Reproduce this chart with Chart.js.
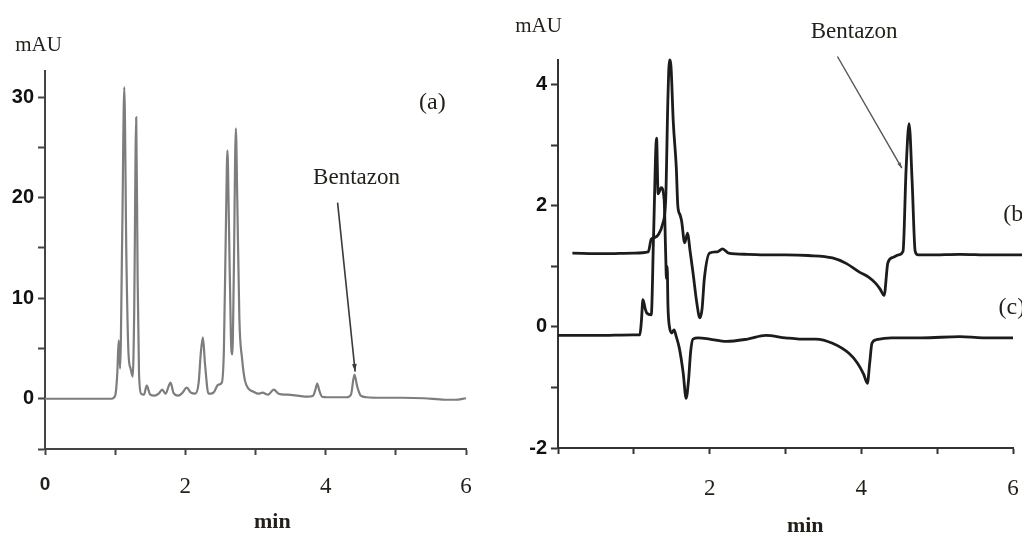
<!DOCTYPE html>
<html>
<head>
<meta charset="utf-8">
<script src="https://cdn.jsdelivr.net/npm/chart.js@4.4.1/dist/chart.umd.min.js"></script>
<style>
    body { margin: 0; background: #fff; }
    #wrap { position: relative; width: 1022px; height: 536px; overflow: hidden; }
    canvas { position: absolute; top: 0; }
    #chartA { left: 0; }
    #chartB { left: 500px; }
</style>
</head>
<body>
<div id="wrap">
    <canvas id="chartA" width="500" height="536"></canvas>
    <canvas id="chartB" width="522" height="536"></canvas>
</div>
<script>
// (a) chromatogram, min / mAU
const timeA = [0, 0.5, 0.95, 1.00, 1.03, 1.05, 1.07, 1.10, 1.13, 1.16, 1.19, 1.22, 1.25, 1.27, 1.30, 1.32, 1.34, 1.37,
    1.41, 1.45, 1.50, 1.56, 1.62, 1.67, 1.72, 1.76, 1.79, 1.83, 1.90, 1.96, 2.02, 2.08, 2.14, 2.19, 2.22, 2.25, 2.28,
    2.33, 2.40, 2.47, 2.52, 2.55, 2.58, 2.60, 2.62, 2.65, 2.67, 2.69, 2.72, 2.74, 2.77, 2.81, 2.85, 2.90, 2.97, 3.04,
    3.10, 3.18, 3.26, 3.33, 3.45, 3.60, 3.74, 3.82, 3.85, 3.88, 3.91, 3.95, 4.02, 4.15, 4.30, 4.36, 4.41, 4.45, 4.50,
    4.58, 4.80, 5.10, 5.40, 5.70, 5.85, 6.0];
const signalA = [0, 0, 0, 0.3, 2.5, 5.8, 3.0, 16, 31, 14, 4.5, 3.0, 2.2, 8, 28, 12, 2.5, 0.5,
    0.4, 1.3, 0.4, 0.3, 0.5, 0.9, 0.5, 1.2, 1.6, 0.6, 0.3, 0.6, 1.1, 0.6, 0.5, 1.6, 4.5, 6.1, 3.5,
    0.5, 0.6, 1.4, 1.6, 5, 18, 24.7, 18, 6, 4.4, 12, 26.9, 20, 8, 3.9, 1.8, 1.0, 0.7, 0.5,
    0.6, 0.4, 0.9, 0.5, 0.4, 0.3, 0.2, 0.3, 0.8, 1.5, 0.8, 0.2, 0.15, 0.15, 0.15, 0.4, 2.4, 1.2, 0.3,
    0.15, 0.1, 0.1, 0.05, -0.1, -0.1, 0.05];

// (b) trace
const timeB = [0.19, 0.6, 1.0, 1.19, 1.23, 1.28, 1.32, 1.38, 1.42, 1.45, 1.47, 1.49, 1.52, 1.56, 1.58, 1.61, 1.63,
    1.67, 1.71, 1.74, 1.78, 1.83, 1.87, 1.90, 1.93, 2.0, 2.1, 2.17, 2.25, 2.5, 2.8, 3.0, 3.3, 3.62, 3.8, 3.97, 4.1,
    4.19, 4.25, 4.30, 4.35, 4.42, 4.49, 4.55, 4.59, 4.63, 4.67, 4.71, 4.75, 4.9, 5.3, 5.7, 6.12];
const signalB = [1.22, 1.21, 1.22, 1.24, 1.45, 1.48, 1.52, 1.7, 2.1, 3.8, 4.41, 4.3, 3.39, 2.63, 2.0, 1.85, 1.75,
    1.39, 1.55, 1.27, 0.9, 0.4, 0.15, 0.3, 0.8, 1.22, 1.24, 1.29, 1.22, 1.2, 1.19, 1.19, 1.18, 1.14, 1.05, 0.91, 0.82,
    0.72, 0.62, 0.52, 1.06, 1.15, 1.19, 1.25, 2.6, 3.36, 2.4, 1.25, 1.19, 1.19, 1.2, 1.19, 1.19];

// (c) trace
const timeC = [0.0, 0.5, 1.0, 1.08, 1.10, 1.12, 1.15, 1.17, 1.23, 1.26, 1.30, 1.32, 1.36, 1.40, 1.42, 1.43, 1.44,
    1.45, 1.47, 1.50, 1.53, 1.56, 1.60, 1.65, 1.69, 1.72, 1.75, 1.78, 1.85, 2.0, 2.22, 2.5, 2.74, 3.0, 3.18, 3.4,
    3.62, 3.84, 3.95, 4.03, 4.08, 4.11, 4.14, 4.2, 4.4, 4.8, 5.3, 5.6, 6.02];
const signalC = [-0.14, -0.14, -0.13, -0.13, 0.1, 0.45, 0.3, 0.23, 0.2, 1.5, 3.12, 2.2, 2.3, 2.1, 1.2, 0.8, 1.0,
    0.35, 0.0, -0.1, -0.05, -0.16, -0.35, -0.75, -1.18, -0.9, -0.4, -0.2, -0.18, -0.2, -0.24, -0.2, -0.14, -0.18, -0.2, -0.2,
    -0.27, -0.44, -0.6, -0.78, -0.93, -0.6, -0.27, -0.21, -0.18, -0.18, -0.16, -0.18, -0.18];

const xTicks = [0, 1, 2, 3, 4, 5, 6];
const yTicksA = [-5, 0, 5, 10, 15, 20, 25, 30];
const yTicksB = [-2, -1, 0, 1, 2, 3, 4];

const SERIF = '"Liberation Serif", "Times New Roman", serif';
const SANS = '"Liberation Sans", Arial, sans-serif';

const toPoints = (xs, ys) => xs.map((x, i) => ({ x: x, y: ys[i] }));

// text + arrows placed in data units
const notes = {
    id: 'notes',
    afterDraw(chart, args, opts) {
        const ctx = chart.ctx;
        const sx = chart.scales.x, sy = chart.scales.y;
        ctx.save();
        (opts.arrows || []).forEach(a => {
            const x1 = sx.getPixelForValue(a.from[0]), y1 = sy.getPixelForValue(a.from[1]);
            const x2 = sx.getPixelForValue(a.to[0]), y2 = sy.getPixelForValue(a.to[1]);
            ctx.strokeStyle = a.color;
            ctx.fillStyle = a.color;
            ctx.lineWidth = a.width;
            ctx.beginPath();
            ctx.moveTo(x1, y1);
            ctx.lineTo(x2, y2);
            ctx.stroke();
            const ang = Math.atan2(y2 - y1, x2 - x1);
            ctx.beginPath();
            ctx.moveTo(x2, y2);
            ctx.lineTo(x2 - a.head * Math.cos(ang - 0.3), y2 - a.head * Math.sin(ang - 0.3));
            ctx.lineTo(x2 - a.head * Math.cos(ang + 0.3), y2 - a.head * Math.sin(ang + 0.3));
            ctx.closePath();
            ctx.fill();
        });
        (opts.labels || []).forEach(l => {
            ctx.font = l.font;
            ctx.fillStyle = '#231f1a';
            ctx.textAlign = l.align || 'center';
            ctx.textBaseline = 'middle';
            ctx.fillText(l.text, sx.getPixelForValue(l.at[0]), sy.getPixelForValue(l.at[1]));
        });
        ctx.restore();
    }
};

function axisX(color, labelFn, fontFn, height, pad) {
    return {
        type: 'linear',
        min: 0,
        max: 6,
        afterBuildTicks: axis => { axis.ticks = xTicks.map(v => ({ value: v })); },
        afterFit: scale => {
            scale.height = height;
            // keep the plot edge where the figure has it
            scale.paddingLeft = 0;
            scale.paddingRight = 0;
        },
        border: { color: color, width: 2 },
        grid: { drawOnChartArea: false, tickLength: 6, tickColor: color, tickWidth: 2 },
        ticks: { color: '#231f1a', padding: pad, maxRotation: 0, autoSkip: false, callback: labelFn, font: fontFn }
    };
}

function axisY(color, min, max, ticks, labelFn, width) {
    return {
        type: 'linear',
        min: min,
        max: max,
        afterBuildTicks: axis => { axis.ticks = ticks.map(v => ({ value: v })); },
        afterFit: scale => { scale.width = width; },
        border: { color: color, width: 2 },
        grid: { drawOnChartArea: false, tickLength: 7, tickColor: color, tickWidth: 2 },
        ticks: { color: '#111', padding: 4, autoSkip: false, callback: labelFn,
            font: { family: SANS, size: 20, weight: 'bold' } }
    };
}

function displayLeft() {
    const config = {
        type: 'line',
        data: {
            datasets: [{
                label: '(a)',
                data: toPoints(timeA, signalA),
                borderColor: '#7d7d7d',
                borderWidth: 2.2,
                pointRadius: 0,
                cubicInterpolationMode: 'monotone',
                fill: false
            }]
        },
        options: {
            responsive: false,
            animation: false,
            events: [],
            layout: { padding: { left: 0, top: 71, right: 34, bottom: 0 } },
            plugins: {
                legend: { display: false },
                tooltip: { enabled: false },
                notes: {
                    labels: [
                        { text: 'mAU', at: [-0.093, 35.15], font: '21px ' + SERIF },
                        { text: 'Bentazon', at: [4.44, 21.95], font: '23px ' + SERIF },
                        { text: '(a)', at: [5.52, 29.4], font: '24px ' + SERIF },
                        { text: 'min', at: [3.24, -12.3], font: 'bold 22px ' + SERIF }
                    ],
                    arrows: [{ from: [4.17, 19.5], to: [4.42, 2.7], color: '#3a3a3a', width: 1.6, head: 8 }]
                }
            },
            scales: {
                x: axisX('#444', v => (v % 2 === 0 ? String(v) : ''),
                    c => (c.tick && c.tick.value === 0
                        ? { family: SANS, size: 19, weight: 'bold' }
                        : { family: SERIF, size: 23 }), 87, 18),
                y: axisY('#444', -5, 32.6, yTicksA, v => (v % 10 === 0 ? String(v) : ''), 45)
            }
        },
        plugins: [notes]
    };
    new Chart(document.getElementById('chartA'), config);
}

function displayRight() {
    const config = {
        type: 'line',
        data: {
            datasets: [{
                    label: '(b)',
                    data: toPoints(timeB, signalB),
                    borderColor: '#1c1c1c',
                    borderWidth: 2.8,
                    pointRadius: 0,
                    cubicInterpolationMode: 'monotone',
                    clip: false,
                    fill: false
                },
                {
                    label: '(c)',
                    data: toPoints(timeC, signalC),
                    borderColor: '#1c1c1c',
                    borderWidth: 2.8,
                    pointRadius: 0,
                    cubicInterpolationMode: 'monotone',
                    fill: false
                }
            ]
        },
        options: {
            responsive: false,
            animation: false,
            events: [],
            layout: { padding: { left: 0, top: 60, right: 9, bottom: 0 } },
            plugins: {
                legend: { display: false },
                tooltip: { enabled: false },
                notes: {
                    labels: [
                        { text: 'mAU', at: [-0.257, 4.96], font: '21px ' + SERIF },
                        { text: 'Bentazon', at: [3.905, 4.876], font: '23px ' + SERIF },
                        { text: '(b)', at: [5.87, 1.85], font: '24px ' + SERIF, align: 'left' },
                        { text: '(c)', at: [5.81, 0.31], font: '24px ' + SERIF, align: 'left' },
                        { text: 'min', at: [3.26, -3.29], font: 'bold 22px ' + SERIF }
                    ],
                    arrows: [{ from: [3.685, 4.468], to: [4.534, 2.623], color: '#555', width: 1.4, head: 6 }]
                }
            },
            scales: {
                x: axisX('#333', v => (v % 2 === 0 && v > 0 ? String(v) : ''),
                    { family: SERIF, size: 23 }, 88, 21),
                y: axisY('#333', -2, 4.41, yTicksB, v => (v % 2 === 0 ? String(v) : ''), 58)
            }
        },
        plugins: [notes]
    };
    new Chart(document.getElementById('chartB'), config);
}

window.onload = function() {
    displayLeft();
    displayRight();
}
</script>
</body>
</html>
